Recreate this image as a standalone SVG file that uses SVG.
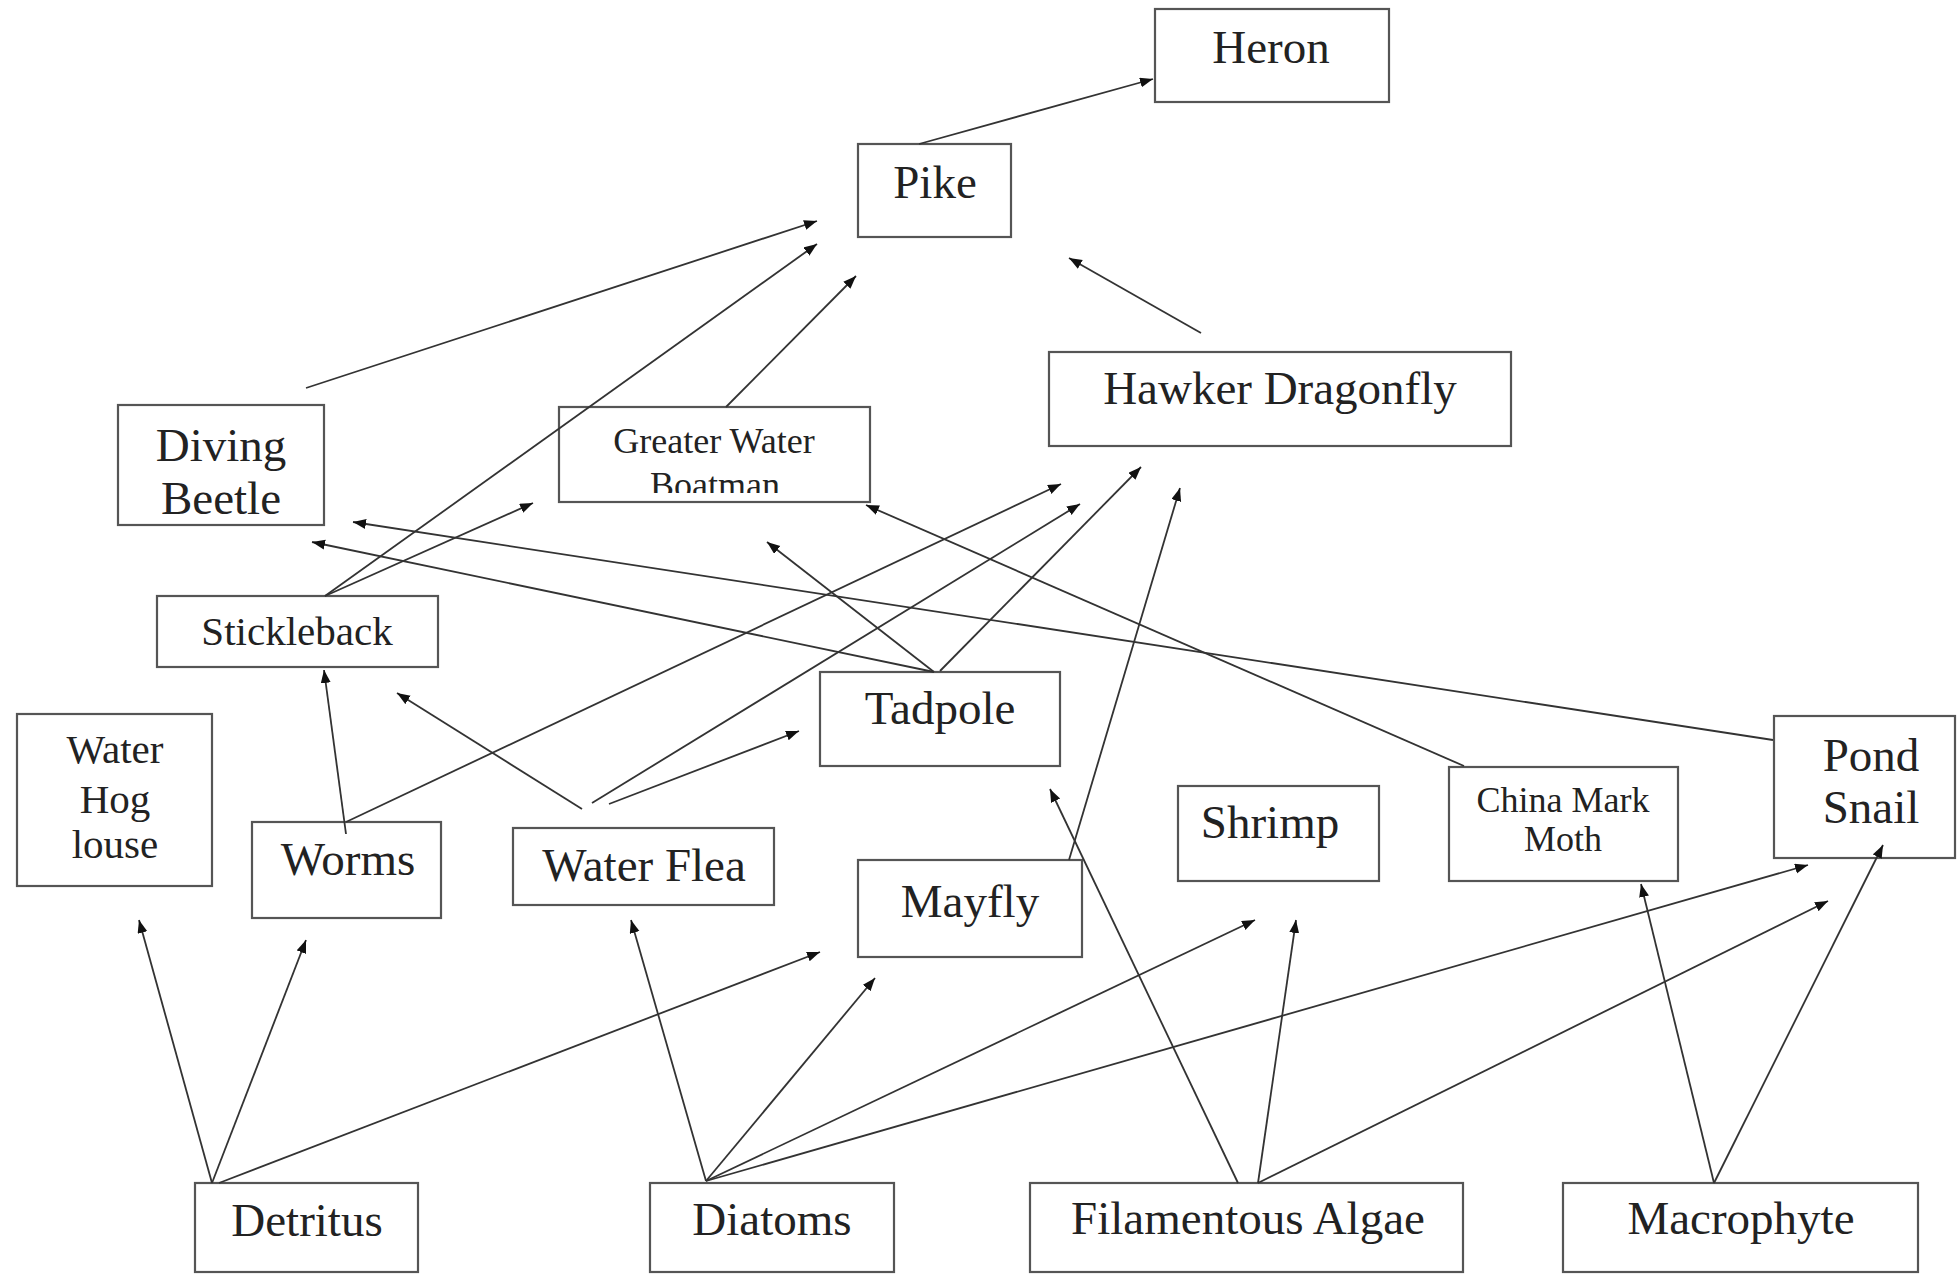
<svg xmlns="http://www.w3.org/2000/svg" width="1957" height="1276" viewBox="0 0 1957 1276">
<style>
.box{fill:#fff;stroke:#555;stroke-width:2.2}
.t{font-family:"Liberation Serif","Times New Roman",serif;font-size:47px;fill:#222;text-anchor:middle}
.s41{font-size:41px}
.s36{font-size:36px}
.c line{stroke:#333;stroke-width:1.8;marker-end:url(#ah)}
</style>
<defs>
<marker id="ah" markerUnits="userSpaceOnUse" markerWidth="14" markerHeight="12" refX="13" refY="5" orient="auto">
<path d="M0,0 L13,5 L0,10 Z" fill="#111"/>
</marker>
<clipPath id="gwbclip"><rect x="559" y="407" width="311" height="86"/></clipPath>
</defs>
<rect width="1957" height="1276" fill="#fff"/>
<g id="heron"><rect class="box" x="1155" y="9" width="234" height="93"/><text class="t" x="1271" y="63">Heron</text></g>
<g id="pike"><rect class="box" x="858" y="144" width="153" height="93"/><text class="t" x="935" y="198">Pike</text></g>
<g id="hawker-dragonfly"><rect class="box" x="1049" y="352" width="462" height="94"/><text class="t" x="1280" y="404">Hawker Dragonfly</text></g>
<g id="diving-beetle"><rect class="box" x="118" y="405" width="206" height="120"/><text class="t" x="221" y="461">Diving</text><text class="t" x="221" y="514">Beetle</text></g>
<g id="greater-water-boatman"><rect class="box" x="559" y="407" width="311" height="95"/><g clip-path="url(#gwbclip)"><text class="t s36" x="714" y="453">Greater Water</text><text class="t s36" x="715" y="497">Boatman</text></g></g>
<g id="stickleback"><rect class="box" x="157" y="596" width="281" height="71"/><text class="t s41" x="297" y="645">Stickleback</text></g>
<g id="water-hog-louse"><rect class="box" x="17" y="714" width="195" height="172"/><text class="t s41" x="115" y="763">Water</text><text class="t s41" x="115" y="813">Hog</text><text class="t s41" x="115" y="858">louse</text></g>
<g id="worms"><rect class="box" x="252" y="822" width="189" height="96"/><text class="t" x="348" y="875">Worms</text></g>
<g id="water-flea"><rect class="box" x="513" y="828" width="261" height="77"/><text class="t" x="644" y="881">Water Flea</text></g>
<g id="tadpole"><rect class="box" x="820" y="672" width="240" height="94"/><text class="t" x="940" y="724">Tadpole</text></g>
<g id="mayfly"><rect class="box" x="858" y="860" width="224" height="97"/><text class="t" x="970" y="917">Mayfly</text></g>
<g id="shrimp"><rect class="box" x="1178" y="786" width="201" height="95"/><text class="t" x="1270" y="838">Shrimp</text></g>
<g id="china-mark-moth"><rect class="box" x="1449" y="767" width="229" height="114"/><text class="t s36" x="1563" y="812">China Mark</text><text class="t s36" x="1563" y="851">Moth</text></g>
<g id="pond-snail"><rect class="box" x="1774" y="716" width="181" height="142"/><text class="t" x="1871" y="771">Pond</text><text class="t" x="1871" y="823">Snail</text></g>
<g id="detritus"><rect class="box" x="195" y="1183" width="223" height="89"/><text class="t" x="307" y="1236">Detritus</text></g>
<g id="diatoms"><rect class="box" x="650" y="1183" width="244" height="89"/><text class="t" x="772" y="1235">Diatoms</text></g>
<g id="filamentous-algae"><rect class="box" x="1030" y="1183" width="433" height="89"/><text class="t" x="1248" y="1234">Filamentous Algae</text></g>
<g id="macrophyte"><rect class="box" x="1563" y="1183" width="355" height="89"/><text class="t" x="1741" y="1234">Macrophyte</text></g>
<g class="c" id="connectors">
<line x1="919" y1="144" x2="1153" y2="79"/>
<line x1="306" y1="388" x2="817" y2="221"/>
<line x1="325" y1="596" x2="817" y2="244"/>
<line x1="726" y1="407" x2="856" y2="276"/>
<line x1="325" y1="596" x2="533" y2="503"/>
<line x1="1201" y1="333" x2="1069" y2="258"/>
<line x1="934" y1="672" x2="312" y2="542"/>
<line x1="1773" y1="740" x2="353" y2="522"/>
<line x1="934" y1="672" x2="767" y2="542"/>
<line x1="940" y1="671" x2="1141" y2="467"/>
<line x1="582" y1="809" x2="397" y2="693"/>
<line x1="592" y1="803" x2="1080" y2="504"/>
<line x1="609" y1="804" x2="799" y2="731"/>
<line x1="346" y1="822" x2="1061" y2="484"/>
<line x1="346" y1="834" x2="324" y2="670"/>
<line x1="1069" y1="860" x2="1180" y2="488"/>
<line x1="1464" y1="766" x2="866" y2="505"/>
<line x1="212" y1="1183" x2="139" y2="920"/>
<line x1="212" y1="1183" x2="306" y2="940"/>
<line x1="219" y1="1183" x2="820" y2="952"/>
<line x1="706" y1="1181" x2="631" y2="920"/>
<line x1="706" y1="1181" x2="875" y2="978"/>
<line x1="706" y1="1181" x2="1255" y2="920"/>
<line x1="706" y1="1181" x2="1808" y2="865"/>
<line x1="1238" y1="1183" x2="1050" y2="789"/>
<line x1="1258" y1="1183" x2="1296" y2="920"/>
<line x1="1258" y1="1183" x2="1828" y2="901"/>
<line x1="1714" y1="1183" x2="1641" y2="884"/>
<line x1="1714" y1="1183" x2="1883" y2="845"/>
</g>
</svg>
